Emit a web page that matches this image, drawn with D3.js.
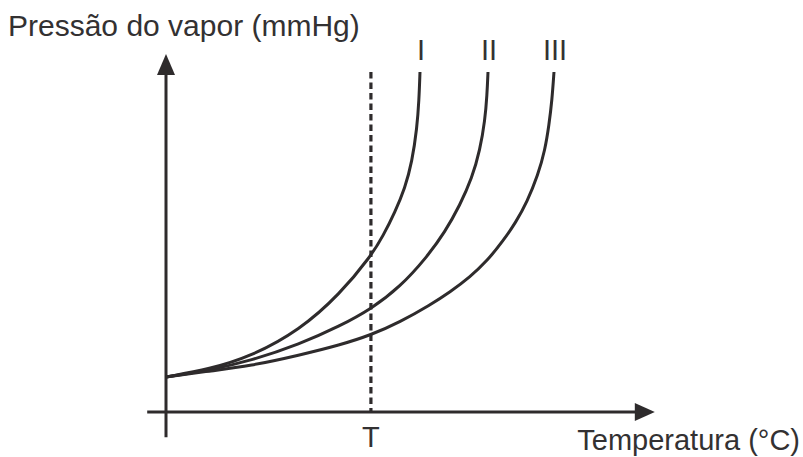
<!DOCTYPE html>
<html lang="en">
<meta charset="utf-8" />
<style>
    body { margin: 0; background: #fff; }
    text {
        font-family: "Liberation Sans", Arial, sans-serif;
        font-size: 29px;
        fill: #333132;
    }
    .axis-line {
        stroke: #2e2b2c;
        stroke-width: 3px;
        fill: none;
    }
    .curve {
        stroke: #2e2b2c;
        stroke-width: 3px;
        fill: none;
    }
    .dash {
        stroke: #2e2b2c;
        stroke-width: 3.2px;
        stroke-dasharray: 6.5, 4;
    }
</style>
<body>
<svg width="803" height="457"></svg>
<script src="https://d3js.org/d3.v7.min.js"></script>
<script>
    // curves (arbitrary units, x = temperature, y = pressure)
    var curveI = [[0, 10.29], [9.36, 12.65], [17.87, 16.18], [28.51, 24.12], [37.02, 34.71],
        [43.62, 45.88], [46.17, 51.76], [48.72, 58.82], [50.85, 65.88], [52.34, 73.53],
        [53.40, 83.53], [53.83, 91.76], [54.04, 100]]
    var curveII = [[0, 10.29], [9.36, 12.35], [17.87, 15.0], [28.51, 20.0], [37.02, 25.29],
        [43.62, 30.29], [49.79, 36.76], [55.53, 45.59], [59.36, 52.94], [62.55, 60.88],
        [65.11, 68.82], [66.81, 77.06], [67.87, 85.88], [68.30, 93.24], [68.51, 100]]
    var curveIII = [[0, 10.29], [9.36, 12.06], [17.87, 13.53], [28.51, 16.76], [37.02, 19.71],
        [43.62, 22.65], [49.79, 26.47], [56.17, 31.47], [60.43, 35.29], [64.68, 39.71],
        [68.30, 44.41], [71.70, 50.29], [74.47, 55.88], [76.81, 61.76], [79.15, 69.71],
        [80.64, 77.06], [81.49, 84.41], [82.13, 91.76], [82.55, 100]]
    var curveNames = ["I", "II", "III"]
    var tValue = 43.6

    var svg = d3.select("svg")

    var x = d3.scaleLinear().domain([0, 100]).range([166, 636])
    var y = d3.scaleLinear().domain([0, 100]).range([412, 72])

    // axes with arrows
    svg.append("line").attr("class", "axis-line")
        .attr("x1", x(-4)).attr("x2", x(101)).attr("y1", y(0)).attr("y2", y(0))
    svg.append("path")
        .attr("d", "M" + x(104) + "," + y(0) + " L" + (x(104) - 20) + "," + (y(0) - 9) +
            " L" + (x(104) - 20) + "," + (y(0) + 9) + "Z")
        .attr("fill", "#2e2b2c")

    svg.append("line").attr("class", "axis-line")
        .attr("x1", x(0)).attr("x2", x(0)).attr("y1", y(-7.4)).attr("y2", y(102))
    svg.append("path")
        .attr("d", "M" + x(0) + "," + y(105.3) + " L" + (x(0) - 9) + "," + (y(105.3) + 21) +
            " L" + (x(0) + 9) + "," + (y(105.3) + 21) + "Z")
        .attr("fill", "#2e2b2c")

    // dashed T line
    svg.append("line").attr("class", "dash")
        .attr("x1", x(tValue)).attr("x2", x(tValue))
        .attr("y1", y(100)).attr("y2", y(0))

    var line = d3.line()
        .x(d => x(d[0]))
        .y(d => y(d[1]))
        .curve(d3.curveBasis)

    var curves = [curveI, curveII, curveIII]
    svg.selectAll("path.curve")
        .data(curves)
        .enter()
        .append("path")
        .attr("class", "curve")
        .attr("d", d => line(d))

    svg.selectAll("text.name")
        .data(curves)
        .enter()
        .append("text")
        .attr("class", "name")
        .attr("x", d => x(d[d.length - 1][0]) + 1)
        .attr("y", 60)
        .attr("text-anchor", "middle")
        .text((d, i) => curveNames[i])

    svg.append("text")
        .attr("x", x(tValue))
        .attr("y", 447)
        .attr("text-anchor", "middle")
        .text("T")

    svg.append("text")
        .attr("x", 8)
        .attr("y", 36)
        .style("font-size", "30px")
        .text("Pressão do vapor (mmHg)")

    svg.append("text")
        .attr("x", 800)
        .attr("y", 450)
        .attr("text-anchor", "end")
        .text("Temperatura (°C)")
</script>
</body>
</html>
